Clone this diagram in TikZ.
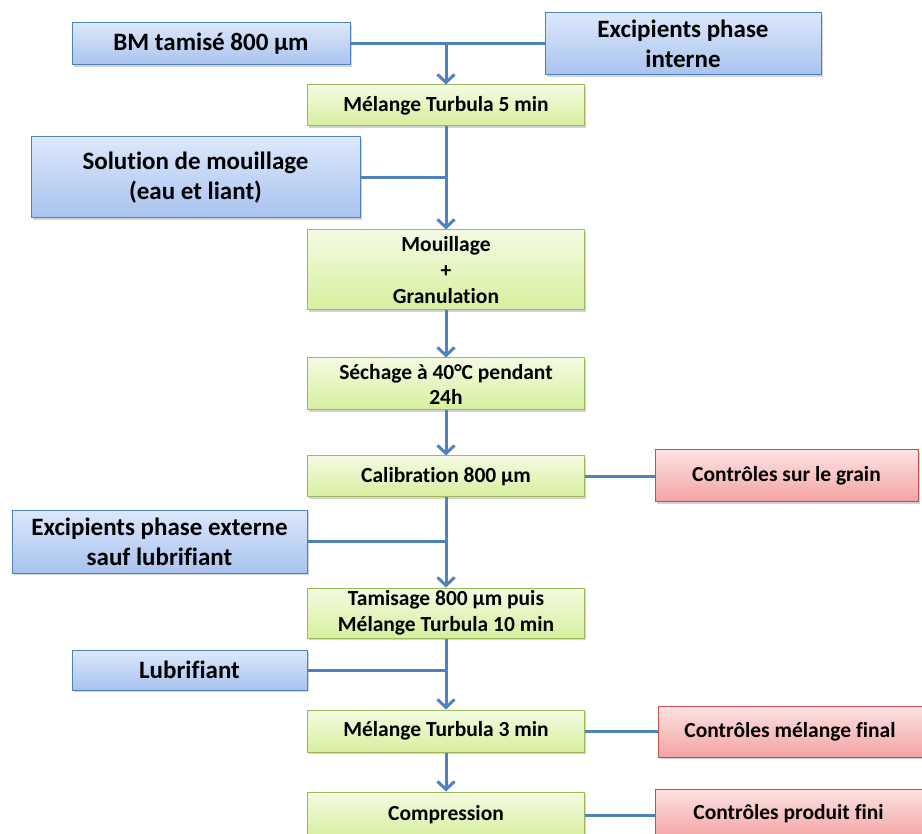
\documentclass[tikz,border=0pt]{standalone}
\usepackage{fontspec}
\setmainfont{Carlito}[Ligatures={NoCommon}]
\usetikzlibrary{arrows.meta,shadows}
\definecolor{lineblue}{HTML}{4F81BD}
\definecolor{bluetop}{HTML}{DCE8FB}
\definecolor{bluebot}{HTML}{A8C3EF}
\definecolor{blueedge}{HTML}{4F81BD}
\definecolor{greentop}{HTML}{F4FBE2}
\definecolor{greenbot}{HTML}{D6EF9E}
\definecolor{greenedge}{HTML}{9BBB59}
\definecolor{redtop}{HTML}{FDE2E2}
\definecolor{redbot}{HTML}{F3A3A3}
\definecolor{rededge}{HTML}{C0504D}
\tikzset{
  box/.style={draw, line width=1pt, inner sep=0pt, align=center, font=\bfseries,
    drop shadow={shadow xshift=1.5pt, shadow yshift=-2pt, opacity=0.35}},
  inbox/.style={box, draw=blueedge, top color=bluetop, bottom color=bluebot, font=\bfseries\fontsize{25}{30}\selectfont},
  procbox/.style={box, draw=greenedge, top color=greentop, bottom color=greenbot, minimum width=277pt, font=\bfseries\fontsize{21.5}{26}\selectfont},
  ctrlbox/.style={box, draw=rededge, top color=redtop, bottom color=redbot, font=\bfseries\fontsize{21.5}{26}\selectfont},
  link/.style={draw=lineblue, line width=3pt},
  arr/.style={link, -{Straight Barb[length=8pt,width=17pt,line width=3pt]}},
}
\begin{document}
\begin{tikzpicture}[x=1pt,y=-1pt]
\useasboundingbox (0,0) rectangle (922,834);
% input boxes
\node[inbox, minimum width=278pt, minimum height=42pt] (bm) at (211,44) {BM tamisé 800 µm};
\node[inbox, minimum width=276pt, minimum height=62pt] (exi) at (683,44) {Excipients phase\\interne};
\node[inbox, minimum width=329pt, minimum height=81pt] (sol) at (195.5,177.5) {Solution de mouillage\\(eau et liant)};
\node[inbox, minimum width=295pt, minimum height=63pt] (exe) at (159.5,541.5) {Excipients phase externe\\sauf lubrifiant};
\node[inbox, minimum width=235pt, minimum height=40pt] (lub) at (189.5,670) {Lubrifiant};
% process boxes
\node[procbox, minimum height=41pt] (m1) at (446,105.5) {Mélange Turbula 5 min};
\node[procbox, minimum height=80pt] (mg) at (446,270) {Mouillage\\+\\Granulation};
\node[procbox, minimum height=52pt, font=\bfseries\fontsize{21.5}{25}\selectfont] (sec) at (446,384) {Séchage à 40°C pendant\\24h};
\node[procbox, minimum height=41pt] (cal) at (446,476.5) {Calibration 800 µm};
\node[procbox, minimum height=50pt] (tam) at (446,613) {Tamisage 800 µm puis\\Mélange Turbula 10 min};
\node[procbox, minimum height=42pt] (m3) at (446,731) {Mélange Turbula 3 min};
\node[procbox, minimum height=46pt] (comp) at (446,815) {Compression};
% control boxes
\node[ctrlbox, minimum width=263pt, minimum height=52pt] (cg) at (786.5,476) {Contrôles sur le grain};
\node[ctrlbox, minimum width=264pt, minimum height=51pt] (cm) at (790,731.5) {Contrôles mélange final};
\node[ctrlbox, minimum width=267pt, minimum height=50pt] (cp) at (788.5,814) {Contrôles produit fini};
% connectors
\draw[link] (bm.east) -- (exi.west);
\draw[arr] (m1.north |- bm.east) -- (m1.north);
\draw[arr] (m1.south) -- (mg.north);
\draw[link] (sol.east) -- (sol.east -| m1.south);
\draw[arr] (mg.south) -- (sec.north);
\draw[arr] (sec.south) -- (cal.north);
\draw[link] (cal.east) -- (cal.east -| cg.west);
\draw[arr] (cal.south) -- (tam.north);
\draw[link] (exe.east) -- (exe.east -| cal.south);
\draw[arr] (tam.south) -- (m3.north);
\draw[link] (lub.east) -- (lub.east -| tam.south);
\draw[link] (m3.east) -- (m3.east -| cm.west);
\draw[arr] (m3.south) -- (comp.north);
\draw[link] (comp.east) -- (comp.east -| cp.west);
\end{tikzpicture}
\end{document}
